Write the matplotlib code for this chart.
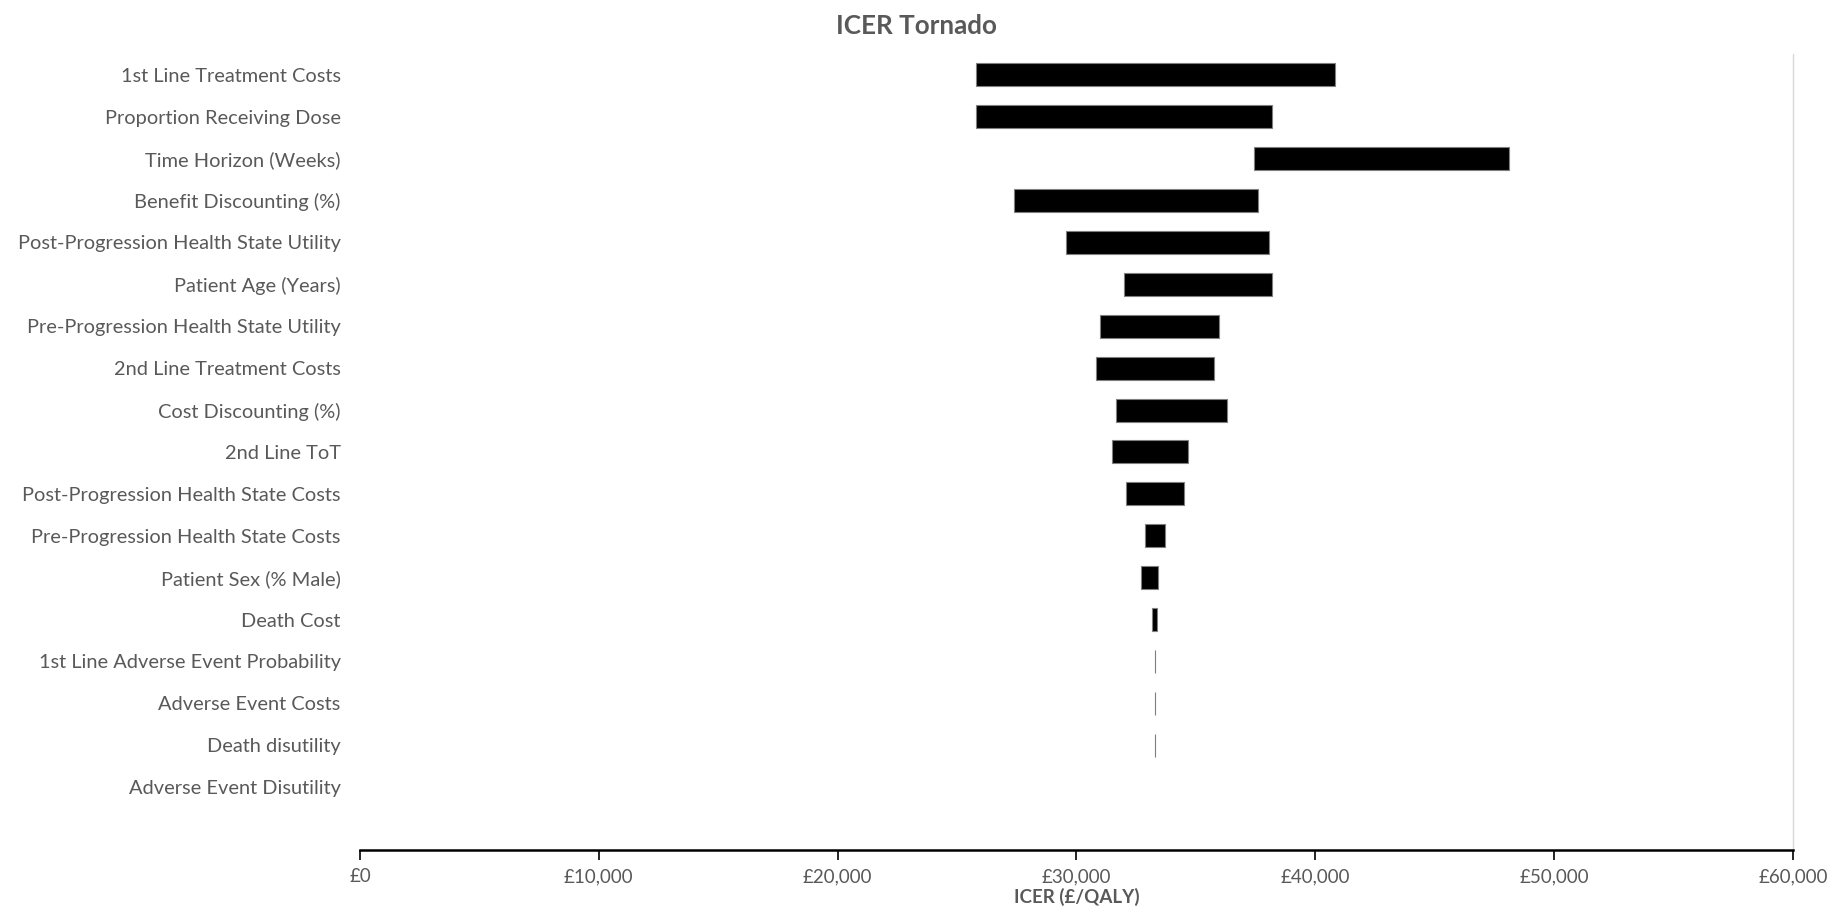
import matplotlib
matplotlib.use("Agg")
import matplotlib.pyplot as plt
from matplotlib.ticker import FuncFormatter

# one-way sensitivity results: ICER at low / high parameter bound (GBP per QALY)
params = [
    "1st Line Treatment Costs",
    "Proportion Receiving Dose",
    "Time Horizon (Weeks)",
    "Benefit Discounting (%)",
    "Post-Progression Health State Utility",
    "Patient Age (Years)",
    "Pre-Progression Health State Utility",
    "2nd Line Treatment Costs",
    "Cost Discounting (%)",
    "2nd Line ToT",
    "Post-Progression Health State Costs",
    "Pre-Progression Health State Costs",
    "Patient Sex (% Male)",
    "Death Cost",
    "1st Line Adverse Event Probability",
    "Adverse Event Costs",
    "Death disutility",
    "Adverse Event Disutility",
]
icer_low = [25780, 25780, 37450, 27370, 29580, 31980, 30990, 30840, 31650,
            31470, 32060, 32870, 32720, 33180, 33290, 33290, 33290, None]
icer_high = [40820, 38210, 48100, 37620, 38070, 38190, 35950, 35750, 36290,
             34670, 34500, 33710, 33420, 33380, 33290, 33290, 33290, None]

GREY = "#595959"
plt.rcParams["font.family"] = ["Lato", "DejaVu Sans"]

fig = plt.figure(figsize=(18.33, 9.13), dpi=100)
ax = fig.add_axes([0.1964, 0.069, 0.7817, 0.872])

for i, (lo, hi) in enumerate(zip(icer_low, icer_high)):
    if lo is None:
        continue
    ax.barh(i, hi - lo, left=lo, height=0.55, color="black",
            edgecolor="#7f7f7f", linewidth=0.8)

ax.set_xlim(0, 60000)
ax.set_ylim(len(params) + 0.5, -0.5)  # one empty slot below the last row
ax.set_xticks(range(0, 60001, 10000))
ax.xaxis.set_major_formatter(FuncFormatter(lambda v, _: f"£{v:,.0f}"))
ax.set_yticks(range(len(params)))
ax.set_yticklabels(params)

ax.tick_params(axis="y", length=0, pad=14, labelsize=14.4, labelcolor=GREY)
ax.tick_params(axis="x", length=7, width=1.2, color="black", pad=6,
               labelsize=13.5, labelcolor=GREY)

for side in ("top", "left"):
    ax.spines[side].set_visible(False)
ax.spines["right"].set_color("#d9d9d9")
ax.spines["right"].set_linewidth(1.0)
ax.spines["bottom"].set_color("black")
ax.spines["bottom"].set_linewidth(1.8)

ax.set_xlabel("ICER (£/QALY)", fontsize=13.5, fontweight="bold", color=GREY, labelpad=2)
fig.suptitle("ICER Tornado", fontsize=18.7, fontweight="bold", color=GREY, y=0.985)

fig.savefig("out.png", dpi=100, facecolor="white")
